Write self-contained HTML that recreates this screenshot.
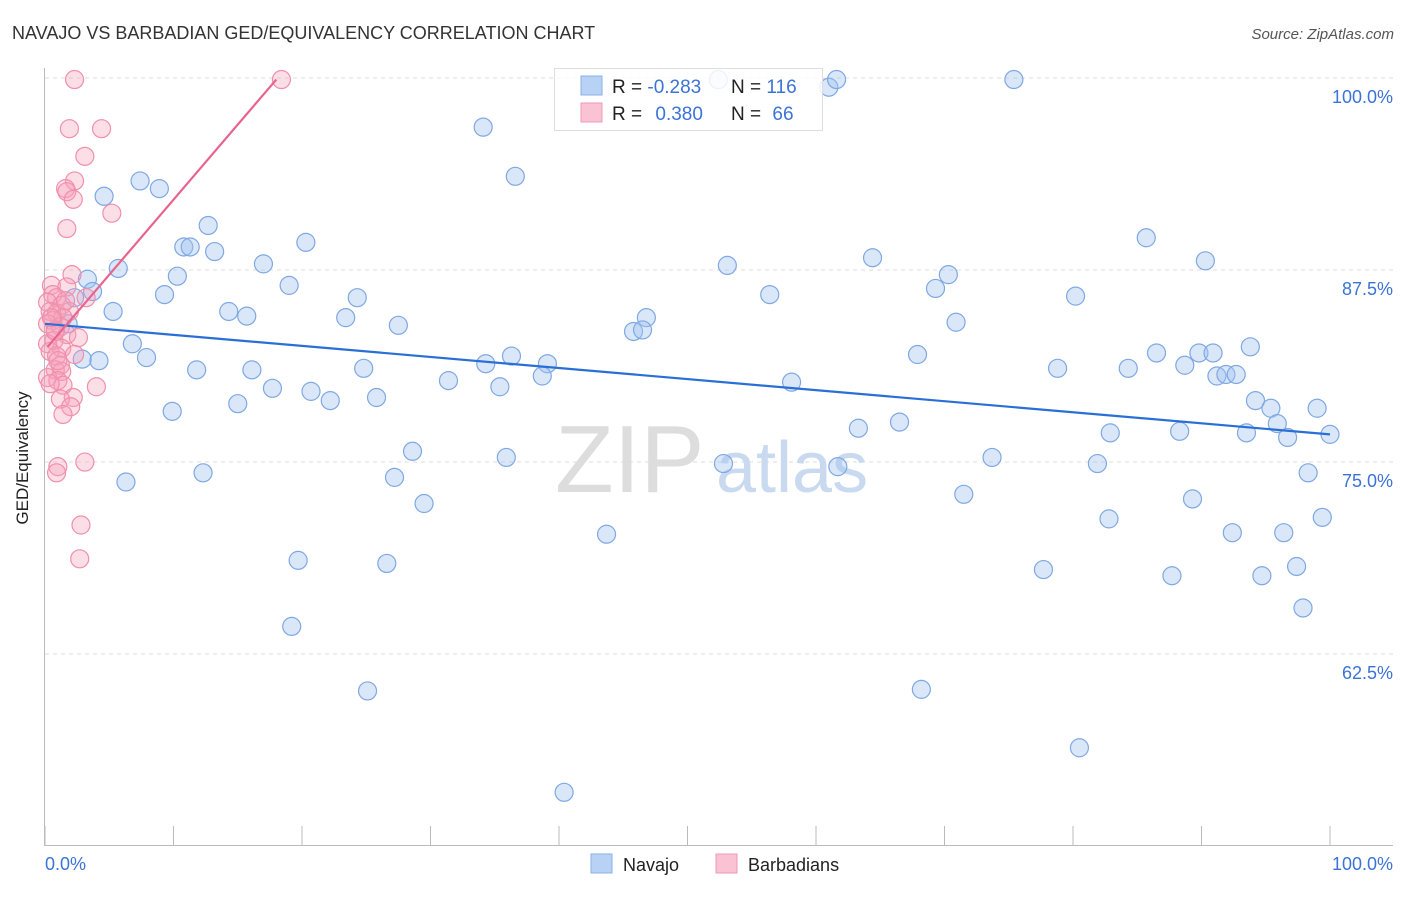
<!DOCTYPE html>
<html><head><meta charset="utf-8"><style>
body{margin:0;background:#fff;font-family:"Liberation Sans",sans-serif;}
svg text{font-family:"Liberation Sans",sans-serif;}
</style></head><body>
<svg id="chart" width="1406" height="892" viewBox="0 0 1406 892" xmlns="http://www.w3.org/2000/svg">
<text x="12" y="39" font-size="18" fill="#333">NAVAJO VS BARBADIAN GED/EQUIVALENCY CORRELATION CHART</text>
<text x="1394" y="39" font-size="15" fill="#555" font-style="italic" text-anchor="end">Source: ZipAtlas.com</text>
<g id="grid"></g>
<g><text x="555" y="492" font-size="96" fill="#ddd" font-family="Liberation Serif,serif">ZIP</text><text x="716" y="492" font-size="72" fill="#c9daf0">atlas</text></g>
<g id="axes"></g>
<g id="pts"></g>
<g id="trends"></g>
<text x="28" y="458" font-size="17" fill="#222" text-anchor="middle" transform="rotate(-90 28 458)">GED/Equivalency</text>
<g>
<rect x="554.5" y="68.5" width="268" height="62" fill="rgba(255,255,255,0.85)" stroke="#ddd"/>
<rect x="581" y="76" width="21" height="19" fill="#b8d2f5" stroke="#8ab0e6"/>
<rect x="581" y="103" width="21" height="19" fill="#f9c3d3" stroke="#f09ab5"/>
<text x="612" y="93" font-size="19" fill="#222">R = <tspan fill="#3b73d6">-0.283</tspan></text>
<text x="731" y="93" font-size="19" fill="#222">N = <tspan fill="#3b73d6">116</tspan></text>
<text x="612" y="120" font-size="19" fill="#222">R = <tspan fill="#3b73d6" dx="8">0.380</tspan></text>
<text x="731" y="120" font-size="19" fill="#222">N = <tspan fill="#3b73d6" dx="6">66</tspan></text>
</g>
<g>
<rect x="591" y="854" width="21" height="19" fill="#b8d2f5" stroke="#8ab0e6"/>
<text x="623" y="871" font-size="18" fill="#222">Navajo</text>
<rect x="716" y="854" width="21" height="19" fill="#f9c3d3" stroke="#f09ab5"/>
<text x="748" y="871" font-size="18" fill="#222">Barbadians</text>
</g>
</svg>
<script>
const navX=[52.4,61.0,61.6,75.4,34.1,36.6,7.4,8.9,4.6,12.7,10.8,11.3,13.2,20.3,64.4,85.7,90.3,5.7,10.3,17.0,3.3,53.1,70.3,19.0,3.7,9.3,24.3,56.4,69.3,80.2,2.3,5.3,14.3,15.7,23.4,27.5,46.8,45.8,46.5,70.9,1.8,6.8,7.9,2.9,4.2,34.3,36.3,39.1,67.9,78.8,86.5,89.8,90.9,93.8,11.8,16.1,24.8,84.3,88.7,91.2,91.9,92.7,31.4,38.7,58.1,35.4,17.7,20.7,22.2,25.8,15.0,9.9,94.2,95.4,99.0,95.9,96.7,100,63.3,66.5,82.9,88.3,93.5,28.6,35.9,73.7,52.8,61.7,81.9,12.3,27.2,6.3,98.3,71.5,29.5,89.3,82.8,99.4,43.7,92.4,96.4,19.7,26.6,77.7,87.7,94.7,97.4,97.9,19.2,25.1,68.2,80.5,40.4];
const navY=[99.9,99.4,99.9,99.9,96.8,93.6,93.3,92.8,92.3,90.4,89.0,89.0,88.7,89.3,88.3,89.6,88.1,87.6,87.1,87.9,86.9,87.8,87.2,86.5,86.1,85.9,85.7,85.9,86.3,85.8,85.7,84.8,84.8,84.5,84.4,83.9,84.4,83.5,83.6,84.1,84.0,82.7,81.8,81.7,81.6,81.4,81.9,81.4,82.0,81.1,82.1,82.1,82.1,82.5,81.0,81.0,81.1,81.1,81.3,80.6,80.7,80.7,80.3,80.6,80.2,79.9,79.8,79.6,79.0,79.2,78.8,78.3,79.0,78.5,78.5,77.5,76.6,76.8,77.2,77.6,76.9,77.0,76.9,75.7,75.3,75.3,74.9,74.7,74.9,74.3,74.0,73.7,74.3,72.9,72.3,72.6,71.3,71.4,70.3,70.4,70.4,68.6,68.4,68.0,67.6,67.6,68.2,65.5,64.3,60.1,60.2,56.4,53.5];
const barX=[2.3,18.4,1.9,4.4,3.1,2.3,1.6,1.7,2.2,5.2,1.7,2.1,0.5,1.7,0.6,0.9,3.2,0.2,1.3,0.4,0.9,1.9,1.4,0.6,0.2,1.2,0.8,1.7,2.6,0.7,0.2,1.3,0.4,2.3,0.9,1.2,0.8,1.3,0.2,1.0,1.4,0.4,4.0,2.2,1.2,2.0,1.4,1.0,3.1,0.9,2.8,2.7,0.8,0.5,1.6,1.0];
const barY=[99.9,99.9,96.7,96.7,94.9,93.3,92.8,92.6,92.1,91.2,90.2,87.2,86.5,86.4,85.9,85.7,85.7,85.4,85.2,84.8,84.7,84.8,84.4,84.2,84.0,83.8,83.6,83.3,83.1,82.9,82.7,82.4,82.2,82.0,81.9,81.3,81.0,80.9,80.5,80.3,80.0,80.1,79.9,79.2,79.1,78.6,78.1,74.7,75.0,74.3,70.9,68.7,83.5,84.4,85.5,81.6];
const navTrendX=[0,100], navTrendY=[84.0,76.8];
const barTrendX=[0.2,18.0], barTrendY=[82.5,99.9];
const yTicks=[100,87.5,75,62.5];
const yTickLabels=["100.0%","87.5%","75.0%","62.5%"];
const xTicks=[0,10,20,30,40,50,60,70,80,90,100];
const NS='http://www.w3.org/2000/svg';
const X0=45,X1=1330,YT=78,YB=845,VMIN=50.07,VMAX=100;
function sx(v){return X0+(X1-X0)*v/100;}
function sy(v){return YT+(YB-YT)*(VMAX-v)/(VMAX-VMIN);}
function mk(tag,attrs,parent){const e=document.createElementNS(NS,tag);for(const k in attrs)e.setAttribute(k,attrs[k]);parent.appendChild(e);return e;}
const grid=document.getElementById('grid'),axes=document.getElementById('axes'),pts=document.getElementById('pts'),tr=document.getElementById('trends');
yTicks.forEach((t,i)=>{
 const l=mk('line',{x1:X0,x2:1393,y1:sy(t),y2:sy(t),stroke:'#ddd','stroke-dasharray':'4,4'},grid);
 
 
 const tx=mk('text',{x:1393,y:sy(t)+25,'font-size':18,fill:'#3b73d6','text-anchor':'end'},axes);
 tx.textContent=yTickLabels[i];
 
 
});
mk('line',{x1:44.5,x2:44.5,y1:68,y2:845,stroke:'#bbb'},axes);
mk('line',{x1:44,x2:1393,y1:845.5,y2:845.5,stroke:'#bbb'},axes);
xTicks.forEach(t=>{
 const l=mk('line',{x1:sx(t),x2:sx(t),y1:826,y2:845,stroke:'#bbb'},axes);
 
 
});
const xl0=mk('text',{x:45,y:870,'font-size':18,fill:'#3b73d6'},axes);xl0.textContent='0.0%';


const xl1=mk('text',{x:1393,y:870,'font-size':18,fill:'#3b73d6','text-anchor':'end'},axes);xl1.textContent='100.0%';


navX.forEach((v,i)=>{
 const c=mk('circle',{cx:sx(v),cy:sy(navY[i]),r:9,fill:'rgba(160,195,240,0.4)',stroke:'#7fa8e3','stroke-width':1.2},pts);
 
 
});
barX.forEach((v,i)=>{
 const c=mk('circle',{cx:sx(v),cy:sy(barY[i]),r:9,fill:'rgba(245,160,185,0.35)',stroke:'#f08fac','stroke-width':1.2},pts);
 
 
});
const l1=mk('line',{x1:sx(navTrendX[0]),y1:sy(navTrendY[0]),x2:sx(navTrendX[1]),y2:sy(navTrendY[1]),stroke:'#2a6fd6','stroke-width':2.2},tr);


const l2=mk('line',{x1:sx(barTrendX[0]),y1:sy(barTrendY[0]),x2:sx(barTrendX[1]),y2:sy(barTrendY[1]),stroke:'#e8648e','stroke-width':2.2},tr);


</script>
</body></html>
